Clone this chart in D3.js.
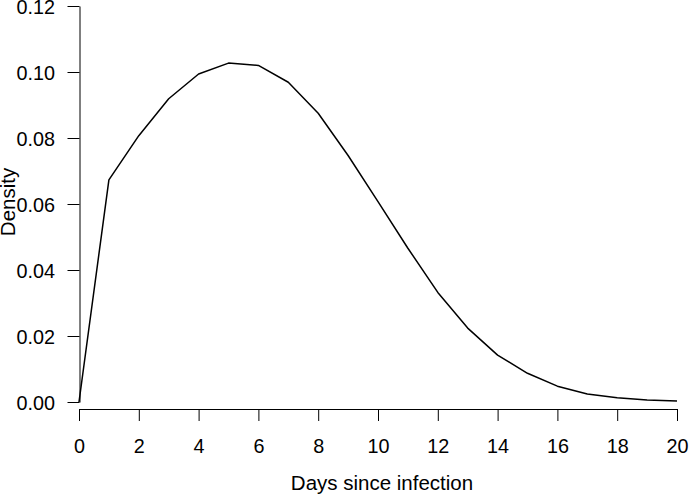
<!DOCTYPE html>
<html>
<head>
<meta charset="utf-8">
<script src="https://cdn.jsdelivr.net/npm/d3@7"></script>
<style>
  html, body { margin: 0; padding: 0; background: #fff; }
  svg { display: block; }
  text { font-family: "Liberation Sans", Arial, Helvetica, sans-serif; fill: #000; }
</style>
</head>
<body>
<svg id="chart" width="689" height="498"></svg>
<script>
const days = [0,1,2,3,4,5,6,7,8,9,10,11,12,13,14,15,16,17,18,19,20];
const density = [0, 0.0673, 0.0807, 0.0919, 0.0994, 0.1027, 0.1020, 0.0969, 0.0875, 0.0747,
                 0.0607, 0.0466, 0.0332, 0.0224, 0.0142, 0.0087, 0.0048, 0.0024, 0.0013, 0.0006, 0.0003];
const xTicks = [0,2,4,6,8,10,12,14,16,18,20];
const yTicks = [0, 0.02, 0.04, 0.06, 0.08, 0.10, 0.12];
const xTitle = "Days since infection";
const yTitle = "Density";

const svg = d3.select("#chart");
const fs = 19.8;

const x = d3.scaleLinear().domain([0, 20]).range([79, 677]);
const y = d3.scaleLinear().domain([0, 0.12]).range([402, 6]);

// X axis
const xAxisY = 409;
const xAxis = svg.append("g").attr("transform", `translate(0,${xAxisY})`)
  .call(d3.axisBottom(x).tickValues(xTicks).tickSize(12).tickSizeOuter(0).tickPadding(0).tickFormat(d3.format("d")));
xAxis.select(".domain").attr("stroke", "#000").attr("stroke-width", 1);
xAxis.selectAll(".tick line").attr("stroke", "#000").attr("stroke-width", 1);
xAxis.selectAll(".tick text").attr("font-size", fs).attr("font-family", "Liberation Sans, Arial, sans-serif")
  .attr("y", 44).attr("dy", 0).attr("fill", "#000");

// Y axis
const yAxis = svg.append("g").attr("transform", `translate(79.5,0)`)
  .call(d3.axisLeft(y).tickValues(yTicks).tickSize(12).tickSizeOuter(0).tickPadding(0).tickFormat(d3.format(".2f")));
yAxis.select(".domain").attr("stroke", "#000").attr("stroke-width", 1);
yAxis.selectAll(".tick line").attr("stroke", "#000").attr("stroke-width", 1);
yAxis.selectAll(".tick text").attr("font-size", fs).attr("font-family", "Liberation Sans, Arial, sans-serif")
  .attr("x", -24.5).attr("dy", 7).attr("fill", "#000");

// Line
const line = d3.line().x((d, i) => x(days[i])).y(d => y(d));
svg.append("path").datum(density)
  .attr("d", line)
  .attr("fill", "none")
  .attr("stroke", "#000")
  .attr("stroke-width", 1.5)
  .attr("stroke-linejoin", "round");

// Titles
svg.append("text").attr("x", 382).attr("y", 490).attr("text-anchor", "middle")
  .attr("font-size", 20.5).text(xTitle);
svg.append("text").attr("transform", "translate(15,202) rotate(-90)").attr("text-anchor", "middle")
  .attr("font-size", 20.5).text(yTitle);
</script>
</body>
</html>
